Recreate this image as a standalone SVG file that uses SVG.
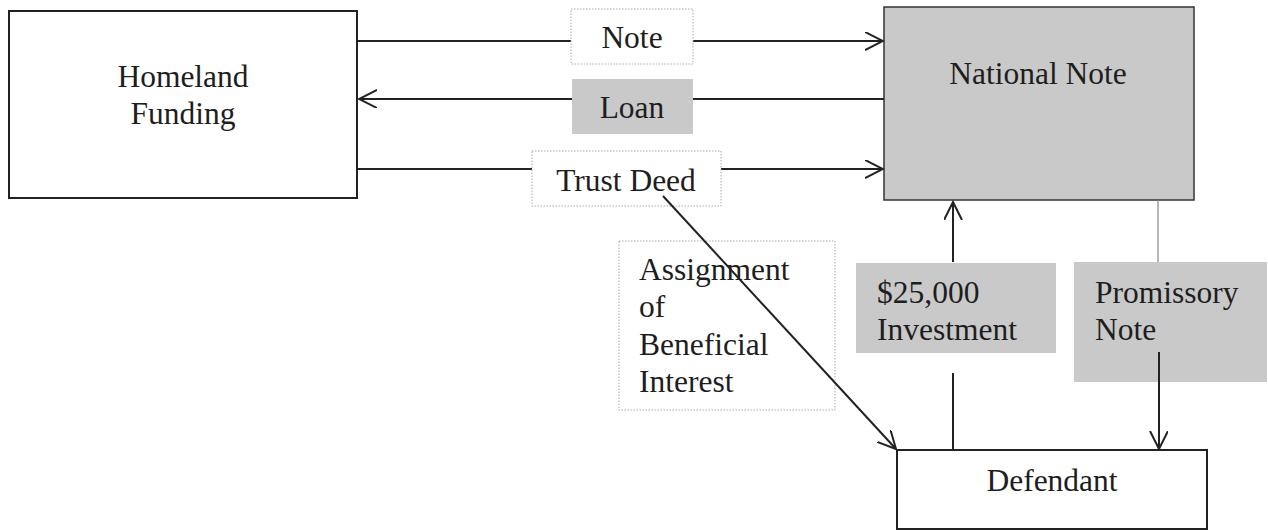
<svg xmlns="http://www.w3.org/2000/svg" width="1268" height="531" viewBox="0 0 1268 531">
<style>
.box{fill:#fff;stroke:#222;stroke-width:2}
.gray{fill:#c9c9c9}
.dot{fill:#fff;stroke:#aaa;stroke-width:1;stroke-dasharray:1.5 1.5}
.t{font-family:"Liberation Serif","Times New Roman",serif;font-size:31.5px;fill:#1e1e1e}
.c{text-anchor:middle}
.ln{stroke:#222;stroke-width:2;fill:none}
.thin{stroke:#888;stroke-width:1.2;fill:none}
</style>
<defs>
<marker id="arr" markerUnits="userSpaceOnUse" markerWidth="20" markerHeight="20" refX="18" refY="9" orient="auto" viewBox="0 0 20 20">
<path d="M0,0 L18,9 L0,18" fill="none" stroke="#222" stroke-width="2"/>
</marker>
</defs>
<rect width="1268" height="531" fill="#fff"/>
<g id="homeland">
<rect class="box" x="9" y="11" width="348" height="187"/>
<text class="t c" x="183" y="87">Homeland</text>
<text class="t c" x="183" y="124">Funding</text>
</g>
<g id="national-note">
<rect class="gray" x="884" y="7" width="310" height="193" stroke="#333" stroke-width="1.5"/>
<text class="t c" x="1038" y="84">National Note</text>
</g>
<g id="defendant">
<rect class="box" x="897" y="450" width="310" height="79"/>
<text class="t c" x="1052" y="491">Defendant</text>
</g>
<g id="connectors">
<line class="ln" x1="357" y1="41" x2="571" y2="41"/>
<line class="ln" x1="693" y1="41" x2="883" y2="41" marker-end="url(#arr)"/>
<line class="ln" x1="884" y1="99" x2="673" y2="99"/>
<line class="ln" x1="572" y1="99" x2="359" y2="99" marker-end="url(#arr)"/>
<line class="ln" x1="357" y1="169" x2="545" y2="169"/>
<line class="ln" x1="707" y1="169" x2="883" y2="169" marker-end="url(#arr)"/>
<line class="ln" x1="953" y1="450" x2="953" y2="373"/>
<line class="ln" x1="953" y1="262" x2="953" y2="202" marker-end="url(#arr)"/>
<line class="thin" x1="1158" y1="200" x2="1158" y2="262"/>
</g>
<g id="note-label">
<rect class="dot" x="571" y="9" width="122" height="55"/>
<text class="t c" x="632" y="48">Note</text>
</g>
<g id="loan-label">
<rect class="gray" x="572" y="79" width="121" height="55"/>
<text class="t c" x="632" y="118">Loan</text>
</g>
<g id="trust-deed-label">
<rect class="dot" x="532" y="151" width="189" height="55"/>
<text class="t c" x="626" y="191">Trust Deed</text>
</g>
<g id="assignment-label">
<rect class="dot" x="619" y="241" width="216" height="169"/>
<text class="t" x="639" y="280">Assignment</text>
<text class="t" x="639" y="317">of</text>
<text class="t" x="639" y="355">Beneficial</text>
<text class="t" x="639" y="392">Interest</text>
</g>
<g id="investment-label">
<rect class="gray" x="856" y="263" width="200" height="90"/>
<text class="t" x="877" y="303">$25,000</text>
<text class="t" x="877" y="340">Investment</text>
</g>
<g id="promissory-label">
<rect class="gray" x="1074" y="262" width="193" height="120"/>
<text class="t" x="1095" y="303">Promissory</text>
<text class="t" x="1095" y="340">Note</text>
</g>
<g id="connectors-over">
<line class="ln" x1="663" y1="196" x2="896" y2="449" marker-end="url(#arr)"/>
<line class="ln" x1="1159" y1="352" x2="1159" y2="449" marker-end="url(#arr)"/>
</g>
</svg>
